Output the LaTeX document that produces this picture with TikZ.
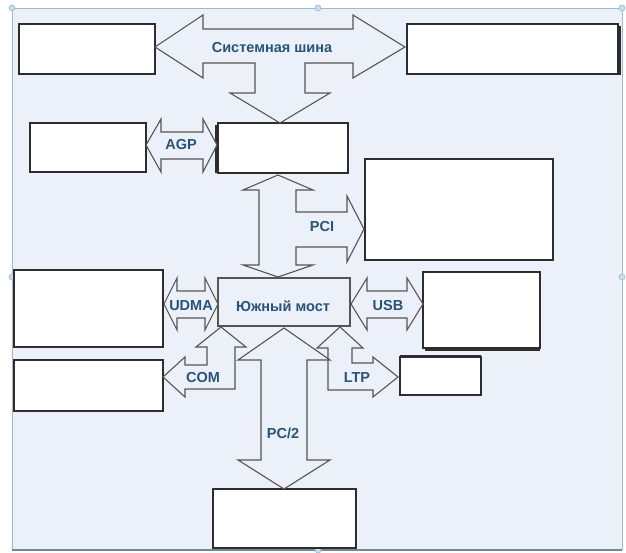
\documentclass[tikz,border=0pt]{standalone}
\usepackage{fontspec}
\setmainfont{Liberation Sans}
\definecolor{bg}{RGB}{236,240,248}
\definecolor{boxline}{RGB}{45,45,45}
\definecolor{arrline}{RGB}{85,85,85}
\definecolor{lblcol}{RGB}{38,84,124}
\definecolor{framec}{RGB}{160,185,205}
\definecolor{framebot}{RGB}{110,140,150}
\definecolor{handle}{RGB}{200,222,240}
\begin{document}
\begin{tikzpicture}[x=1pt,y=-1pt,
  box/.style={draw=boxline, fill=white, line width=1.2pt, anchor=north west, inner sep=0pt, outer sep=0pt},
  blk/.style={draw=arrline, fill=bg, line width=1.1pt, line join=miter},
  lbl/.style={text=lblcol, font=\bfseries\fontsize{14.5}{15}\selectfont, inner sep=0pt},
  hdl/.style={draw=framec, fill=handle, line width=0.6pt}]
\useasboundingbox (0,0) rectangle (626,553);
\fill[white] (0,0) rectangle (626,553);
\fill[bg] (12,8) rectangle (622,550);
\draw[framec, line width=0.9pt] (12,550) -- (12,8) -- (622,8) -- (622,550);
\draw[framebot, line width=1.4pt] (12,550) -- (622,550);
\foreach \p in {(12,8),(318,8),(622,8),(12,277),(622,277),(318,550)}
  \filldraw[hdl] \p circle (3);

% boxes
\node[box, minimum width=136, minimum height=50] (cpu)  at (19,24) {};
\node[box, minimum width=211, minimum height=50] (mem)  at (407,24) {};
\draw[boxline, line width=1.2pt] (620,26) -- (620,75);
\node[box, minimum width=116, minimum height=49] (vid)  at (30,123) {};
\node[box, minimum width=130, minimum height=50] (nb)   at (218,123) {};
\draw[boxline, line width=1.2pt] (216,125) -- (216,173);
\node[box, minimum width=188, minimum height=101] (pcib) at (365,159) {};
\node[box, minimum width=149, minimum height=77] (ide)  at (14,270) {};
\node[box, minimum width=132, minimum height=48, fill=bg, draw=arrline, line width=1.1pt] (sb) at (218,278) {};
\node[box, minimum width=117, minimum height=76] (usbd) at (423,272) {};
\draw[boxline, line width=1.2pt] (425,350) -- (540,350);
\node[box, minimum width=149, minimum height=51] (comd) at (14,360) {};
\node[box, minimum width=81, minimum height=38] (lpt)  at (400,357) {};
\draw[boxline, line width=1pt] (400,355) -- (481,355);
\node[box, minimum width=143, minimum height=59] (kbd)  at (213,489) {};

% system bus arrow
\draw[blk] (155,47) -- (203,15) -- (203,29) -- (353,29) -- (353,15) -- (405,47)
  -- (353,78) -- (353,63) -- (305,63) -- (305,93) -- (330,93) -- (280,123)
  -- (230,93) -- (255,93) -- (255,63) -- (203,63) -- (203,78) -- cycle;
% AGP arrow
\draw[blk] (146,145) -- (161,119) -- (161,132) -- (203,132) -- (203,119) -- (217,145)
  -- (203,172) -- (203,159) -- (161,159) -- (161,172) -- cycle;
% PCI arrow
\draw[blk] (278,175) -- (313,190) -- (296,190) -- (296,212) -- (347,212) -- (347,196)
  -- (364,229) -- (347,262) -- (347,247) -- (296,247) -- (296,265) -- (313,265)
  -- (278,277) -- (243,265) -- (259,265) -- (259,190) -- (243,190) -- cycle;
% UDMA arrow
\draw[blk] (164,304) -- (177,278) -- (177,291) -- (205,291) -- (205,278) -- (218,304)
  -- (205,330) -- (205,318) -- (177,318) -- (177,330) -- cycle;
% USB arrow
\draw[blk] (351,304) -- (367,278) -- (367,291) -- (407,291) -- (407,278) -- (423,304)
  -- (407,330) -- (407,318) -- (367,318) -- (367,330) -- cycle;
% COM arrow
\draw[blk] (221,327) -- (246,347) -- (235,347) -- (235,389) -- (185,389) -- (185,397)
  -- (163,377) -- (185,357) -- (185,365) -- (207,365) -- (207,347) -- (196,347) -- cycle;
% LTP arrow
\draw[blk] (340,327) -- (363,348) -- (352,348) -- (352,363) -- (373,363) -- (373,357)
  -- (398,377) -- (373,397) -- (373,390) -- (328,390) -- (328,348) -- (317,348) -- cycle;
% PC/2 arrow
\draw[blk] (284,328) -- (330,360) -- (307,360) -- (307,460) -- (330,460) -- (284,489)
  -- (238,460) -- (261,460) -- (261,360) -- (238,360) -- cycle;

% labels
\node[lbl] (tsys) at (272,48) {Системная шина};
\node[lbl] (tagp) at (181,145) {AGP};
\node[lbl] (tpci) at (322,227) {PCI};
\node[lbl] (tudma) at (191,306) {UDMA};
\node[lbl] (tsb) at (283,306) {Южный мост};
\node[lbl] (tusb) at (388,306) {USB};
\node[lbl] (tcom) at (203,378) {COM};
\node[lbl] (tltp) at (357,378) {LTP};
\node[lbl] (tps) at (283,433) {PC/2};
\end{tikzpicture}
\end{document}
